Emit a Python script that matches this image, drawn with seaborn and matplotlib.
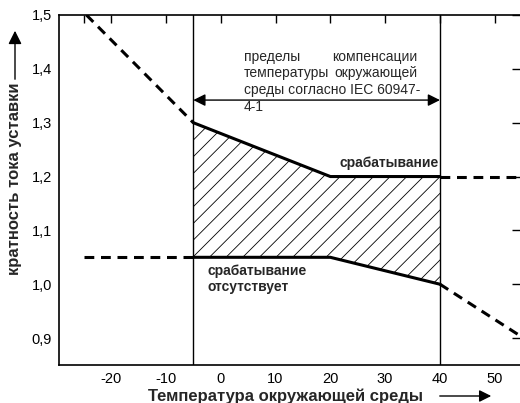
import matplotlib
matplotlib.use('Agg')
import matplotlib.pyplot as plt
import seaborn as sns

# data
temp_solid = [-5, 20, 40]
trip_solid = [1.30, 1.20, 1.20]
notrip_solid = [1.05, 1.05, 1.00]

trip_left_x = [-24.5, -5]
trip_left_y = [1.50, 1.30]
trip_right_x = [40, 55]
trip_right_y = [1.20, 1.20]

notrip_left_x = [-25, -5]
notrip_left_y = [1.05, 1.05]
notrip_right_x = [40, 54.5]
notrip_right_y = [1.00, 0.905]

comp_limits = [-5, 40]

x_ticks = [-20, -10, 0, 10, 20, 30, 40, 50]
x_minor = [-25]
y_ticks = [0.9, 1.0, 1.1, 1.2, 1.3, 1.4, 1.5]
y_labels = ['0,9', '1,0', '1,1', '1,2', '1,3', '1,4', '1,5']

sns.set_style('white')
plt.rcParams['font.family'] = ['Liberation Sans', 'DejaVu Sans']
plt.rcParams['hatch.linewidth'] = 0.6
plt.rcParams['axes.unicode_minus'] = False

fig = plt.figure(figsize=(5.2, 4.03), dpi=100)
ax = fig.add_axes([59 / 520, 38 / 403, 461 / 520, 350 / 403])

lw = 2.2
sns.lineplot(x=temp_solid, y=trip_solid, ax=ax, color='black', lw=lw)
sns.lineplot(x=temp_solid, y=notrip_solid, ax=ax, color='black', lw=lw)
for xs, ys in [(trip_left_x, trip_left_y), (trip_right_x, trip_right_y),
               (notrip_left_x, notrip_left_y), (notrip_right_x, notrip_right_y)]:
    sns.lineplot(x=xs, y=ys, ax=ax, color='black', lw=lw, linestyle=(0, (3.2, 2.2)))

# hatched band between the two curves
ax.fill_between(temp_solid, notrip_solid, trip_solid, facecolor='none',
                edgecolor='black', hatch='//', lw=0)

for xv in comp_limits:
    ax.axvline(xv, color='black', lw=1)

ax.annotate('', xy=(comp_limits[0], 1.342), xytext=(comp_limits[1], 1.342),
            arrowprops=dict(arrowstyle='<|-|>', mutation_scale=18, color='black',
                            lw=1, shrinkA=0, shrinkB=0))

fs = 10.0
x0, x1 = 4.2, 35.9
ax.text(x0, 1.422, 'пределы', fontsize=fs, ha='left', va='center')
ax.text(x1, 1.422, 'компенсации', fontsize=fs, ha='right', va='center')
ax.text(x0, 1.392, 'температуры', fontsize=fs, ha='left', va='center')
ax.text(x1, 1.392, 'окружающей', fontsize=fs, ha='right', va='center')
ax.text(x0, 1.361, 'среды согласно IEC 60947-', fontsize=fs, ha='left', va='center')
ax.text(x0, 1.329, '4-1', fontsize=fs, ha='left', va='center')

ax.text(39.8, 1.226, 'срабатывание', fontsize=10, fontweight='bold', ha='right', va='center')
ax.text(-2.4, 1.010, 'срабатывание\nотсутствует', fontsize=10, fontweight='bold',
        ha='left', va='center', linespacing=1.15)

ax.set_xlim(-29.5, 54.6)
ax.set_ylim(0.85, 1.5)
ax.set_xticks(x_ticks)
ax.set_xticks(x_minor, minor=True)
ax.set_yticks(y_ticks)
ax.set_yticklabels(y_labels)
ax.set_xlabel('')
ax.set_ylabel('')
ax.tick_params(which='both', direction='in', length=6, width=1, top=True, right=True,
               labelsize=10.5, colors='black', pad=5)
for side in ['left', 'bottom', 'top']:
    ax.spines[side].set_color('black')
    ax.spines[side].set_linewidth(1.2)
ax.spines['right'].set_visible(False)

# axis titles with arrows
fig.text(15 / 520, 1 - 179 / 403, 'кратность тока уставки', rotation=90,
         fontsize=12, fontweight='bold', ha='center', va='center')
fig.patches.append(matplotlib.patches.FancyArrowPatch(
    (15 / 520, 1 - 82 / 403), (15 / 520, 1 - 28 / 403), transform=fig.transFigure,
    arrowstyle='-|>', mutation_scale=20, color='black', lw=1))
fig.text(286 / 520, 1 - 396 / 403, 'Температура окружающей среды',
         fontsize=12, fontweight='bold', ha='center', va='center')
fig.patches.append(matplotlib.patches.FancyArrowPatch(
    (437 / 520, 1 - 396 / 403), (494 / 520, 1 - 396 / 403), transform=fig.transFigure,
    arrowstyle='-|>', mutation_scale=18, color='black', lw=1))

fig.savefig('out.png', dpi=100)
